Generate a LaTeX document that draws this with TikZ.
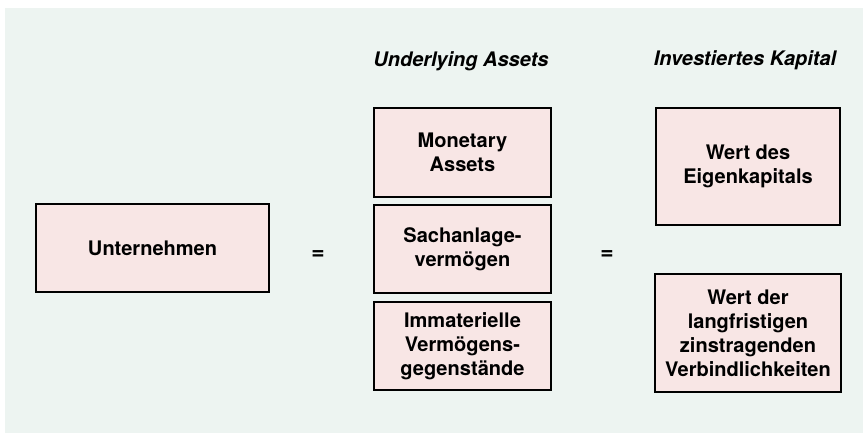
\documentclass[tikz,border=0pt]{standalone}
\usepackage{fontspec}
\setmainfont{TeX Gyre Heros}
\definecolor{bgmint}{HTML}{EDF4F1}
\definecolor{boxpink}{HTML}{F8E6E5}
\begin{document}
\begin{tikzpicture}[
    box/.style={draw=black, line width=1.2pt, fill=boxpink, align=center,
        inner sep=2pt, font=\fontsize{11.4}{13.6}\selectfont\bfseries},
    title/.style={font=\fontsize{11.4}{13.6}\selectfont\bfseries\itshape},
    eq/.style={font=\fontsize{13}{15}\selectfont\bfseries}]
    \useasboundingbox (0,0) rectangle (17.26,8.72);
    \fill[bgmint] (0.1,0.06) rectangle (17.26,8.56);
    % left side
    \node[box, minimum width=4.66cm, minimum height=1.76cm] (unt) at (3.05,3.76) {Unternehmen};
    \node[eq] (eq1) at (6.36,3.62) {=};
    % underlying assets
    \node[title] (ua) at (9.22,7.5) {Underlying Assets};
    \node[box, minimum width=3.54cm, minimum height=1.78cm] (mon) at (9.25,5.67) {Monetary\\Assets};
    \node[box, minimum width=3.54cm, minimum height=1.76cm] (sach) at (9.25,3.74) {Sachanlage-\\verm\"ogen};
    \node[box, minimum width=3.54cm, minimum height=1.76cm] (imm) at (9.25,1.80) {Immaterielle\\Verm\"ogens-\\gegenst\"ande};
    \node[eq] (eq2) at (12.14,3.62) {=};
    % investiertes kapital
    \node[title] (ik) at (14.9,7.52) {Investiertes Kapital};
    \node[box, minimum width=3.68cm, minimum height=2.34cm] (eig) at (14.96,5.39) {Wert des\\Eigenkapitals};
    \node[box, minimum width=3.72cm, minimum height=2.36cm] (verb) at (14.96,2.06) {Wert der\\langfristigen\\zinstragenden\\Verbindlichkeiten};
\end{tikzpicture}
\end{document}
